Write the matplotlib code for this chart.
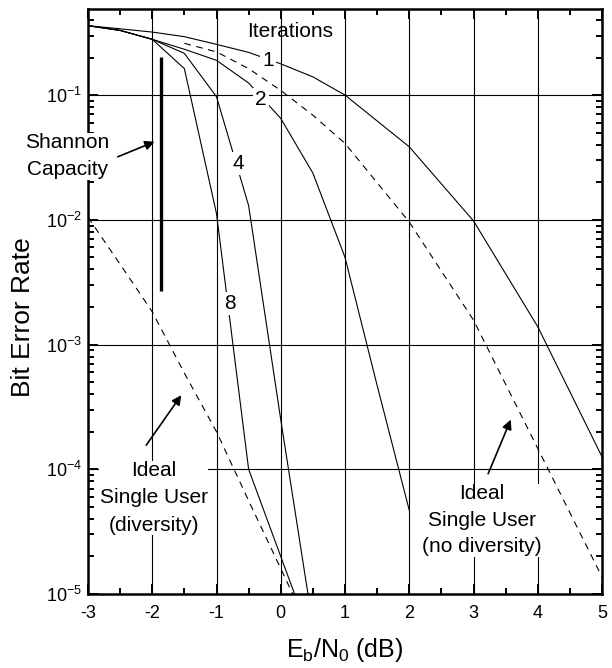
import matplotlib
matplotlib.use("Agg")
import matplotlib.pyplot as plt
from matplotlib.ticker import LogLocator, MultipleLocator, NullFormatter, FixedLocator

plt.rcParams['font.family'] = ['Liberation Sans', 'DejaVu Sans']
plt.rcParams['mathtext.fontset'] = 'custom'
plt.rcParams['mathtext.rm'] = 'Liberation Sans'
plt.rcParams['mathtext.it'] = 'Liberation Sans'
plt.rcParams['axes.unicode_minus'] = False

# Eb/N0 (dB) and BER
it1_x = [-3, -2.5, -2, -1.5, -1, -0.5, 0, 0.5, 1, 2, 3, 4, 5]
it1_y = [0.36, 0.34, 0.32, 0.294, 0.255, 0.22, 0.178, 0.14, 0.1, 0.0385, 0.0098, 0.00139, 1.26e-4]

it2_x = [-3, -2.5, -2, -1.5, -1, -0.5, 0, 0.5, 1, 1.5, 2]
it2_y = [0.36, 0.33, 0.28, 0.233, 0.19, 0.125, 0.065, 0.0237, 0.005, 4.7e-4, 4.7e-5]

it4_x = [-3, -2.5, -2, -1.5, -1, -0.5, 0, 0.5]
it4_y = [0.36, 0.33, 0.28, 0.216, 0.097, 0.013, 2.5e-4, 5.6e-6]

it8_x = [-3, -2.5, -2, -1.5, -1, -0.5, 0, 0.5]
it8_y = [0.36, 0.33, 0.28, 0.163, 0.0112, 1e-4, 2e-5, 4e-6]

nodiv_x = [-1.5, -1, -0.5, 0, 0.5, 1, 2, 3, 4, 5]
nodiv_y = [0.26, 0.222, 0.163, 0.109, 0.069, 0.041, 0.0096, 0.00157, 1.47e-4, 1.37e-5]

div_x = [-3, -2.5, -2, -1.5, -1, -0.5, 0, 0.5]
div_y = [0.0105, 4.4e-3, 1.83e-3, 5.9e-4, 2e-4, 5.6e-5, 1.6e-5, 4.5e-6]

shannon_x = [-1.87, -1.87]
shannon_y = [0.0027, 0.203]

xticks = [-3, -2, -1, 0, 1, 2, 3, 4, 5]
yticks = [1e-5, 1e-4, 1e-3, 1e-2, 1e-1]
ytick_labels = ['$10^{-5}$', '$10^{-4}$', '$10^{-3}$', '$10^{-2}$', '$10^{-1}$']

fig = plt.figure(figsize=(6.12, 6.68), dpi=100)
ax = fig.add_axes([88 / 612, 1 - 594 / 668, 514 / 612, 585 / 668])

lw = 0.8
ax.plot(it1_x, it1_y, color='black', lw=lw)
ax.plot(it2_x, it2_y, color='black', lw=lw)
ax.plot(it4_x, it4_y, color='black', lw=lw)
ax.plot(it8_x, it8_y, color='black', lw=lw)
ax.plot(nodiv_x, nodiv_y, color='black', lw=lw, ls=(0, (6, 5)))
ax.plot(div_x, div_y, color='black', lw=lw, ls=(0, (6, 5)))
ax.plot(shannon_x, shannon_y, color='black', lw=2.4, solid_capstyle='butt')

ax.set_yscale('log')
ax.set_xlim(-3, 5)
ax.set_ylim(1e-5, 0.49)

ax.xaxis.set_major_locator(FixedLocator(xticks))
ax.xaxis.set_minor_locator(MultipleLocator(0.5))
ax.yaxis.set_major_locator(FixedLocator(yticks))
ax.set_yticklabels(ytick_labels)
ax.yaxis.set_minor_locator(LogLocator(base=10, subs=range(2, 10)))
ax.yaxis.set_minor_formatter(NullFormatter())

ax.tick_params(which='both', direction='in', top=True, right=True, colors='black')
ax.tick_params(which='major', length=7, width=1.4, labelsize=13)
ax.tick_params(axis='x', which='major', pad=8)
ax.tick_params(axis='y', which='major', pad=4)
ax.tick_params(which='minor', length=4.5, width=1.4)

ax.grid(True, which='major', color='black', lw=0.8)
for s in ax.spines.values():
    s.set_linewidth(1.8)

ax.set_xlabel('$E_b/N_0$ (dB)', fontsize=18, va='center')
ax.xaxis.set_label_coords(0.5, (594 - 650) / 585)
ax.set_ylabel('Bit Error Rate', fontsize=19, va='center')
ax.yaxis.set_label_coords((23 - 88) / 514, (594 - 317) / 585)

box = dict(facecolor='white', edgecolor='none', pad=1.5)
fs = 15
ax.text(0.14, 0.322, 'Iterations', fontsize=fs, ha='center', va='center')
ax.text(-0.2, 0.19, '1', fontsize=fs, ha='center', va='center', bbox=box)
ax.text(-0.31, 0.0924, '2', fontsize=fs, ha='center', va='center', bbox=box)
ax.text(-0.656, 0.0283, '4', fontsize=fs, ha='center', va='center', bbox=box)
ax.text(-0.796, 0.00214, '8', fontsize=fs, ha='center', va='center', bbox=box)

ax.text(-3.32, 0.0324, 'Shannon\nCapacity', fontsize=fs, ha='center', va='center',
        linespacing=1.5, bbox=dict(facecolor='white', edgecolor='none', pad=0.5), zorder=5)
ax.text(-1.98, 5.9e-5, 'Ideal\nSingle User\n(diversity)', fontsize=fs, ha='center',
        va='center', linespacing=1.55, bbox=dict(facecolor='white', edgecolor='none', pad=0.3))
ax.text(3.13, 3.9e-5, 'Ideal\nSingle User\n(no diversity)', fontsize=fs, ha='center',
        va='center', linespacing=1.5, bbox=dict(facecolor='white', edgecolor='none', pad=0.3))

arrow = dict(arrowstyle='-|>', color='black', lw=1.2, mutation_scale=14, shrinkA=0, shrinkB=0)
ax.annotate('', xy=(-1.964, 0.0423), xytext=(-2.536, 0.032), arrowprops=arrow)
ax.annotate('', xy=(-1.548, 3.93e-4), xytext=(-2.094, 1.56e-4), arrowprops=arrow)
ax.annotate('', xy=(3.58, 2.5e-4), xytext=(3.228, 9.2e-5), arrowprops=arrow)

fig.savefig('out.png', dpi=100)
